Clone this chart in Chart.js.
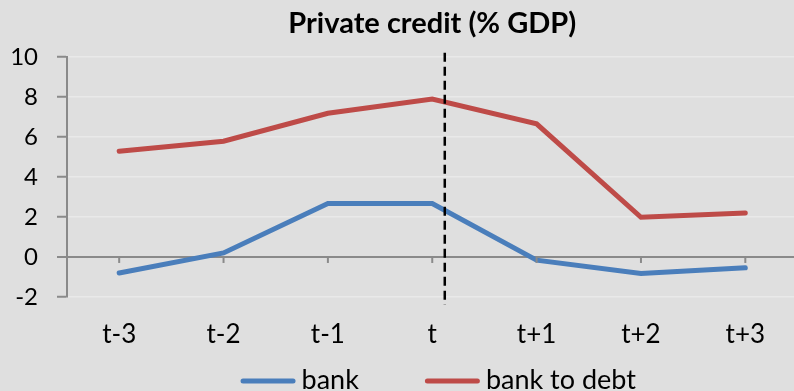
<!DOCTYPE html>
<html>
<head>
<meta charset="utf-8">
<script src="https://cdn.jsdelivr.net/npm/chart.js@4/dist/chart.umd.min.js"></script>
<style>
  html, body { margin: 0; padding: 0; background: #dfdfdf; overflow: hidden; }
  #wrap { width: 800px; height: 391px; }
</style>
</head>
<body>
<div id="wrap"><canvas id="c" width="800" height="391"></canvas></div>
<script>
// Periods around the event date t
const periods = ['t-3', 't-2', 't-1', 't', 't+1', 't+2', 't+3'];
// Change in private credit, % of GDP
const bank = [-0.8, 0.2, 2.67, 2.67, -0.16, -0.82, -0.54];
const bankToDebt = [5.28, 5.78, 7.18, 7.89, 6.65, 1.98, 2.2];
const yTicks = [-2, 0, 2, 4, 6, 8, 10];
// Event marker sits just after period t
const eventPosition = 3.12;

const FONT = 'Lato, "DejaVu Sans", sans-serif';
const AXIS_GRAY = '#8a8a8a';
const BG = '#dfdfdf';

const backgroundPlugin = {
  id: 'bg',
  beforeDraw(chart) {
    const ctx = chart.ctx;
    ctx.save();
    ctx.fillStyle = BG;
    ctx.fillRect(0, 0, chart.width, chart.height);
    ctx.restore();
  }
};

// Zero axis tick marks and the dashed event line
const markersPlugin = {
  id: 'markers',
  afterDatasetsDraw(chart) {
    const { ctx, chartArea, scales } = chart;
    const x = scales.x, y = scales.y;
    const y0 = y.getPixelForValue(0);
    ctx.save();
    ctx.strokeStyle = AXIS_GRAY;
    ctx.lineWidth = 2;
    periods.forEach((_, i) => {
      const px = x.getPixelForValue(i);
      ctx.beginPath();
      ctx.moveTo(px, y0);
      ctx.lineTo(px, y0 + 6);
      ctx.stroke();
    });
    const ex = x.getPixelForValue(eventPosition);
    ctx.strokeStyle = '#000';
    ctx.lineWidth = 2.5;
    ctx.setLineDash([9, 5]);
    ctx.beginPath();
    ctx.moveTo(ex, chartArea.top - 4);
    ctx.lineTo(ex, chartArea.bottom + 8);
    ctx.stroke();
    ctx.restore();
  }
};

// Legend row under the axis: line swatch followed by the series name
const lineLegendPlugin = {
  id: 'lineLegend',
  afterDraw(chart) {
    const { ctx, chartArea } = chart;
    const swatch = 55, gap = 6, spacing = 66, yMid = 380;
    ctx.save();
    ctx.font = '27px ' + FONT;
    ctx.textBaseline = 'middle';
    ctx.textAlign = 'left';
    const items = chart.data.datasets.map(ds => ({
      text: ds.label, color: ds.borderColor, w: ctx.measureText(ds.label).width
    }));
    const total = items.reduce((s, it) => s + swatch + gap + it.w, 0) + spacing * (items.length - 1);
    let x = (chartArea.left + chartArea.right) / 2 + 6 - total / 2;
    items.forEach(it => {
      ctx.strokeStyle = it.color;
      ctx.lineWidth = 5;
      ctx.lineCap = 'round';
      ctx.beginPath();
      ctx.moveTo(x + 2.5, yMid + 1);
      ctx.lineTo(x + swatch - 2.5, yMid + 1);
      ctx.stroke();
      ctx.fillStyle = '#000';
      ctx.fillText(it.text, x + swatch + gap, yMid);
      x += swatch + gap + it.w + spacing;
    });
    ctx.restore();
  }
};

new Chart(document.getElementById('c'), {
  type: 'line',
  data: {
    labels: periods,
    datasets: [
      {
        label: 'bank',
        data: bank,
        borderColor: '#4a7ebb',
        backgroundColor: '#4a7ebb',
        borderWidth: 5,
        pointRadius: 0,
        borderCapStyle: 'round',
        tension: 0
      },
      {
        label: 'bank to debt',
        data: bankToDebt,
        borderColor: '#be4b48',
        backgroundColor: '#be4b48',
        borderWidth: 5,
        pointRadius: 0,
        borderCapStyle: 'round',
        tension: 0
      }
    ]
  },
  options: {
    responsive: false,
    animation: false,
    layout: { padding: { left: 0, right: 2.5, top: 0, bottom: 41 } },
    plugins: {
      title: {
        display: true,
        text: 'Private credit (% GDP)',
        color: '#000',
        fullSize: false,
        font: { family: FONT, size: 29, weight: 'bold' },
        padding: { top: 6, bottom: 16 }
      },
      legend: { display: false },
      tooltip: { enabled: false }
    },
    scales: {
      x: {
        offset: true,
        grid: { display: false, drawTicks: false },
        border: { display: false },
        ticks: {
          color: '#000',
          font: { family: FONT, size: 26 },
          padding: 22,
          maxRotation: 0
        },
        afterFit(scale) { scale.height = 53; }
      },
      y: {
        min: -2,
        max: 10,
        afterBuildTicks(scale) {
          scale.ticks = yTicks.map(v => ({ value: v }));
        },
        afterFit(scale) { scale.width = 67; },
        grid: {
          color: (c) => (c.tick && c.tick.value === 0 ? AXIS_GRAY : '#e9e9e9'),
          lineWidth: (c) => (c.tick && c.tick.value === 0 ? 2 : 1.5),
          tickColor: AXIS_GRAY,
          tickLength: 10,
          tickWidth: 2
        },
        border: { display: true, color: AXIS_GRAY, width: 2 },
        ticks: {
          color: '#000',
          font: { family: FONT, size: 24 },
          padding: 19
        }
      }
    }
  },
  plugins: [backgroundPlugin, markersPlugin, lineLegendPlugin]
});
</script>
</body>
</html>
